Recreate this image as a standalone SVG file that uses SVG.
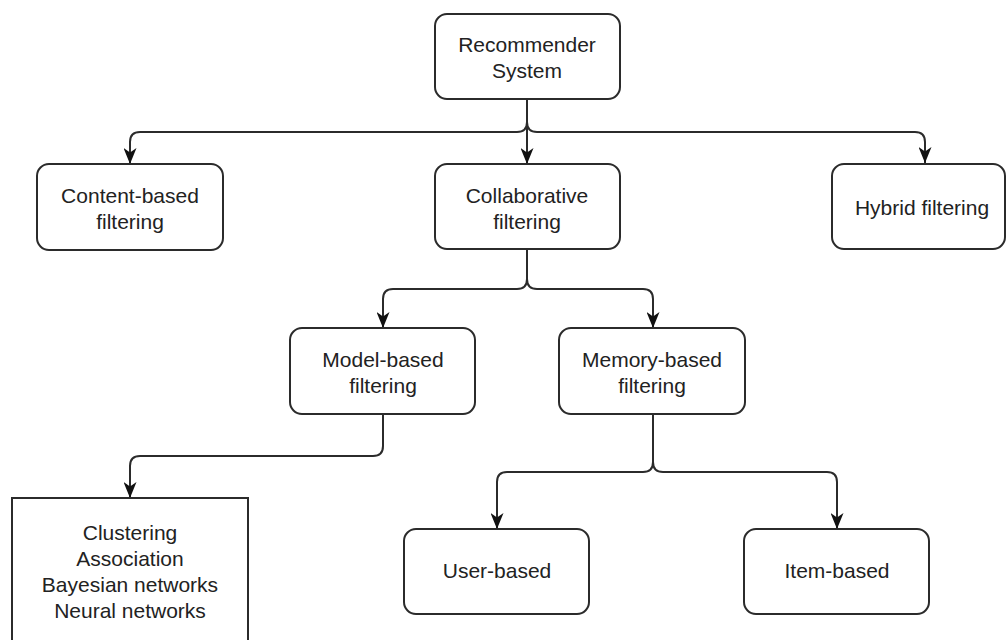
<svg xmlns="http://www.w3.org/2000/svg" width="1007" height="640" viewBox="0 0 1007 640">
  <style>
    .box { fill: #ffffff; stroke: #2b2b2b; stroke-width: 2; }
    .edge { fill: none; stroke: #2b2b2b; stroke-width: 2; marker-end: url(#arrow); }
    .lbl { font-family: "Liberation Sans", Arial, sans-serif; font-size: 21px; fill: #222222; text-anchor: middle; }
  </style>
  <defs>
    <marker id="arrow" markerUnits="userSpaceOnUse" markerWidth="16" markerHeight="13" refX="16" refY="6.5" orient="auto">
      <path d="M0,0 L16,6.5 L0,13 L4.5,6.5 z" fill="#111111"/>
    </marker>
  </defs>
  <rect width="1007" height="640" fill="#ffffff"/>

  <g id="connectors">
    <path class="edge" d="M527,99 V122 Q527,132 517,132 H140 Q130,132 130,142 V164"/>
    <path class="edge" d="M527,99 V164"/>
    <path class="edge" d="M527,99 V122 Q527,132 537,132 H915 Q925,132 925,142 V163"/>
    <path class="edge" d="M527,249 V279 Q527,289 517,289 H393 Q383,289 383,299 V328"/>
    <path class="edge" d="M527,249 V279 Q527,289 537,289 H643 Q653,289 653,299 V328"/>
    <path class="edge" d="M383,414 V446 Q383,456 373,456 H140 Q130,456 130,466 V498"/>
    <path class="edge" d="M653,414 V462 Q653,472 643,472 H507 Q497,472 497,482 V529"/>
    <path class="edge" d="M653,414 V462 Q653,472 663,472 H827 Q837,472 837,482 V529"/>
  </g>

  <g id="recommender-system">
    <rect class="box" x="435" y="14" width="185" height="85" rx="12"/>
    <text class="lbl" x="527" y="52">Recommender</text>
    <text class="lbl" x="527" y="78">System</text>
  </g>

  <g id="content-based">
    <rect class="box" x="37" y="164" width="186" height="86" rx="12"/>
    <text class="lbl" x="130" y="203">Content-based</text>
    <text class="lbl" x="130" y="229">filtering</text>
  </g>

  <g id="collaborative">
    <rect class="box" x="435" y="164" width="185" height="85" rx="12"/>
    <text class="lbl" x="527" y="203">Collaborative</text>
    <text class="lbl" x="527" y="229">filtering</text>
  </g>

  <g id="hybrid">
    <rect class="box" x="832" y="164" width="173" height="85" rx="12"/>
    <text class="lbl" x="922" y="215">Hybrid filtering</text>
  </g>

  <g id="model-based">
    <rect class="box" x="290" y="328" width="185" height="86" rx="12"/>
    <text class="lbl" x="383" y="367">Model-based</text>
    <text class="lbl" x="383" y="393">filtering</text>
  </g>

  <g id="memory-based">
    <rect class="box" x="559" y="328" width="186" height="86" rx="12"/>
    <text class="lbl" x="652" y="367">Memory-based</text>
    <text class="lbl" x="652" y="393">filtering</text>
  </g>

  <g id="model-techniques">
    <rect class="box" x="12" y="498" width="236" height="160"/>
    <text class="lbl" x="130" y="540">Clustering</text>
    <text class="lbl" x="130" y="566">Association</text>
    <text class="lbl" x="130" y="592">Bayesian networks</text>
    <text class="lbl" x="130" y="618">Neural networks</text>
  </g>

  <g id="user-based">
    <rect class="box" x="404" y="529" width="185" height="85" rx="12"/>
    <text class="lbl" x="497" y="578">User-based</text>
  </g>

  <g id="item-based">
    <rect class="box" x="744" y="529" width="185" height="85" rx="12"/>
    <text class="lbl" x="837" y="578">Item-based</text>
  </g>
</svg>
